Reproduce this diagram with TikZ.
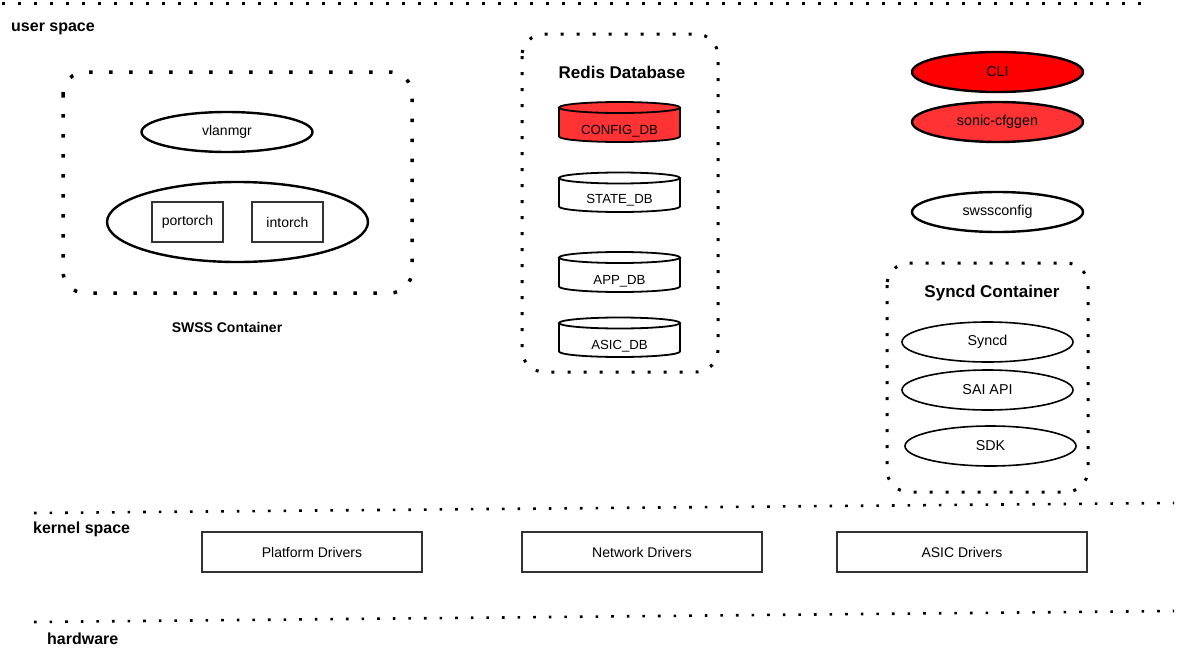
\documentclass[tikz,border=0pt]{standalone}
\usepackage{fontspec}
\setmainfont{Liberation Sans}
\usetikzlibrary{shapes.geometric}
\definecolor{redA}{HTML}{FF0000}
\definecolor{redB}{HTML}{FF3333}
\definecolor{boxgray}{HTML}{333333}
\tikzset{
  sepline/.style={line width=3pt, dash pattern=on 3pt off 13pt},
  container/.style={line width=3.5pt, dash pattern=on 3.5pt off 16.5pt, rounded corners=22pt},
  container2/.style={line width=3pt, dash pattern=on 3pt off 13pt, rounded corners=22pt},
  ell/.style={ellipse, draw, line width=2.4pt, inner sep=0pt, minimum width=171pt, minimum height=40pt, font=\fontsize{14.3}{16}\selectfont},
  ellthin/.style={ellipse, draw, line width=1.6pt, inner sep=0pt, minimum width=171pt, minimum height=40pt, font=\fontsize{14.3}{16}\selectfont},
  orchbox/.style={rectangle, draw=boxgray, line width=2pt, inner sep=0pt, minimum width=71pt, minimum height=40pt, font=\fontsize{14}{16}\selectfont},
  drvbox/.style={rectangle, draw=boxgray, line width=1.6pt, inner sep=0pt, minimum height=40pt, font=\fontsize{14}{16}\selectfont},
  title/.style={font=\bfseries\fontsize{17}{20}\selectfont, inner sep=0pt},
  dblabel/.style={inner sep=0pt, font=\fontsize{13.2}{15}\selectfont},
}
\begin{document}
\begin{tikzpicture}[x=1pt,y=-1pt]
\useasboundingbox (0,0) rectangle (1186,653);
% separator lines
\coordinate (t1) at (2,3); \coordinate (t2) at (1143,3);
\draw[sepline] (t1) -- (t2);
\coordinate (k1) at (34,513); \coordinate (k2) at (1174,503);
\draw[sepline, line width=2.6pt, dash pattern=on 2.6pt off 13pt] (k1) -- (k2);
\coordinate (h1) at (34,622); \coordinate (h2) at (1174,611);
\draw[sepline, line width=2.6pt, dash pattern=on 2.6pt off 13pt] (h1) -- (h2);
\node[title, anchor=west, font=\bfseries\fontsize{16}{19}\selectfont] (us) at (11,29) {user space};
\node[title, anchor=west, font=\bfseries\fontsize{16}{19}\selectfont] (ks) at (33,529) {kernel space};
\node[title, anchor=west, font=\bfseries\fontsize{16}{19}\selectfont] (hw) at (47,639) {hardware};

% SWSS container
\draw[container] (63,72) rectangle (412,293);
\node[ell, font=\fontsize{14}{16}\selectfont] (vlanmgr) at (227,132) {vlanmgr};
\node[ellipse, draw, line width=2.4pt, inner sep=0pt, minimum width=261pt, minimum height=80pt] (orch) at (237.5,222) {};
\node[orchbox] (portorch) at (187.5,222) {portorch};
\node[orchbox] (intorch) at (287.5,222) {intorch};
\node[title, font=\bfseries\fontsize{14}{16}\selectfont] (swss) at (227,327) {SWSS Container};

% Redis
\draw[container2] (522,34) rectangle (718,372);
\node[title] (redis) at (622,72) {Redis Database};
% cylinders
\fill[redB] (559,107.5) -- (559,136.5) arc[start angle=180, end angle=360, x radius=60.5pt, y radius=5.5pt] -- (680,107.5) arc[start angle=0, end angle=180, x radius=60.5pt, y radius=5.5pt] -- cycle;
\foreach \ya/\yb/\fc in {107.5/136.5/redB, 178/206.5/white, 257.5/286.5/white, 323/351.5/white}{
  \filldraw[fill=\fc, line width=1.8pt] (559,\ya) -- (559,\yb) arc[start angle=180, end angle=360, x radius=60.5pt, y radius=5.5pt] -- (680,\ya);
  \draw[line width=1.8pt] (619.5,\ya) ellipse[x radius=60.5pt, y radius=5.5pt];
}
\node[dblabel] (configdb) at (619.5,131) {CONFIG\_DB};
\node[dblabel] (statedb) at (619.5,200) {STATE\_DB};
\node[dblabel] (appdb) at (619.5,281) {APP\_DB};
\node[dblabel] (asicdb) at (619.5,346) {ASIC\_DB};

% right column
\node[ell, fill=redA] (cli) at (997.5,72) {CLI};
\node[ell, fill=redB] (cfggen) at (997.5,122) {sonic-cfggen};
\node[ell] (swssconfig) at (997.5,212) {swssconfig};

% Syncd container
\draw[container2] (887,263) rectangle (1088,492);
\node[title] (syncdc) at (992,293) {Syncd Container};
\node[ellthin] (syncd) at (987.5,342) {Syncd};
\node[ellthin] (sai) at (987.5,390) {SAI API};
\node[ellthin] (sdk) at (990.5,446) {SDK};

% drivers
\node[drvbox, minimum width=220pt] (plat) at (312,552) {Platform Drivers};
\node[drvbox, minimum width=240pt] (net) at (642,552) {Network Drivers};
\node[drvbox, minimum width=250pt] (asic) at (962,552) {ASIC Drivers};
\end{tikzpicture}
\end{document}
